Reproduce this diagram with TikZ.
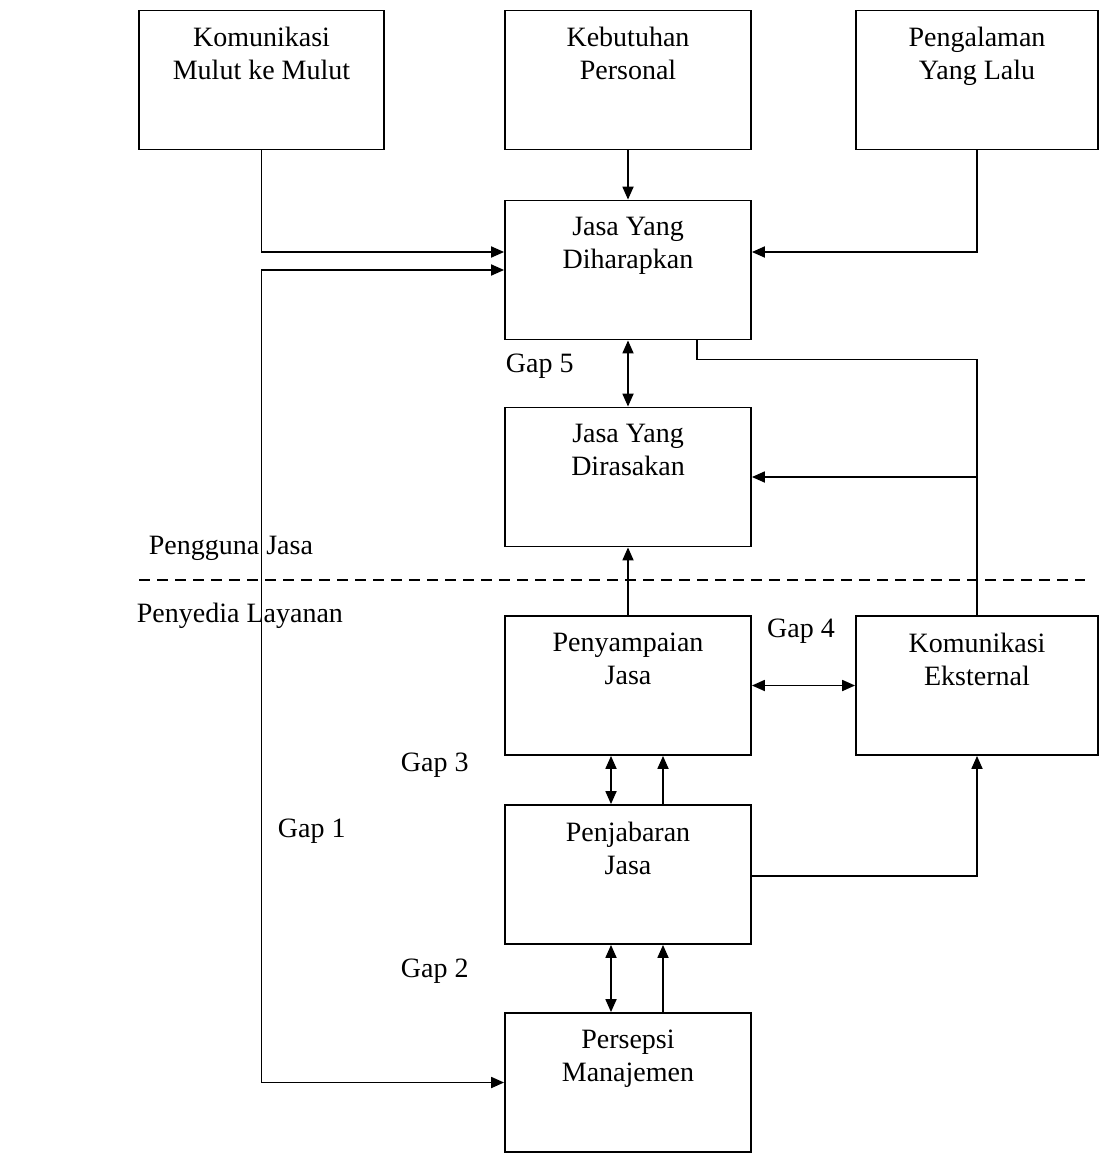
\documentclass[tikz,border=0pt]{standalone}
\usepackage{fontspec}
\setmainfont{Liberation Serif}
\usetikzlibrary{arrows.meta,calc}
\begin{document}
\begin{tikzpicture}[x=1pt,y=-1pt,
  line width=1.8pt,
  box/.style={draw, line width=1.8pt, minimum width=246pt, minimum height=139pt, inner sep=0pt},
  txt/.style={font=\fontsize{28}{33}\selectfont, align=center, inner sep=0pt, anchor=north},
  lbl/.style={font=\fontsize{28}{33}\selectfont, inner sep=0pt},
  arr/.style={-{Triangle[length=13pt,width=11pt]}},
  arrboth/.style={{Triangle[length=13pt,width=11pt]}-{Triangle[length=13pt,width=11pt]}}
]
\useasboundingbox (0,0) rectangle (1099,1173);
\fill[white] (0,0) rectangle (1099,1173);
% boxes
\node[box, minimum width=245pt] (kom) at (261.5,80) {};
\node[box] (keb) at (628,80) {};
\node[box, minimum width=242pt] (pen) at (977,80) {};
\node[box] (har) at (628,270) {};
\node[box] (ras) at (628,477) {};
\node[box] (pyp) at (628,685.5) {};
\node[box, minimum width=242pt] (eks) at (977,685.5) {};
\node[box] (pjb) at (628,874.5) {};
\node[box] (per) at (628,1082.5) {};
% box texts
\node[txt] (tkom) at ([yshift=-17]kom.north) {Komunikasi\\Mulut ke Mulut};
\node[txt] (tkeb) at ([yshift=-17]keb.north) {Kebutuhan\\Personal};
\node[txt] (tpen) at ([yshift=-17]pen.north) {Pengalaman\\Yang Lalu};
\node[txt] (thar) at ([yshift=-17]har.north) {Jasa Yang\\Diharapkan};
\node[txt] (tras) at ([yshift=-17]ras.north) {Jasa Yang\\Dirasakan};
\node[txt] (tpyp) at ([yshift=-17]pyp.north) {Penyampaian\\Jasa};
\node[txt] (teks) at ([yshift=-17]eks.north) {Komunikasi\\Eksternal};
\node[txt] (tpjb) at ([yshift=-17]pjb.north) {Penjabaran\\Jasa};
\node[txt] (tper) at ([yshift=-17]per.north) {Persepsi\\Manajemen};
% dashed divider
\coordinate (dl) at (139,580);
\coordinate (dr) at (1085,580);
\draw[dash pattern=on 11pt off 7pt] (dl) -- (dr);
% labels
\node[lbl, anchor=west] (g5) at (505,366) {Gap 5};
\node[lbl] (g4) at (801,631) {Gap 4};
\node[lbl, anchor=west] (g3) at (400,765) {Gap 3};
\node[lbl, anchor=west] (g1) at (277,831) {Gap 1};
\node[lbl, anchor=west] (g2) at (400,971) {Gap 2};
\node[lbl, anchor=west] (pj) at (148,548) {Pengguna Jasa};
\node[lbl, anchor=west] (pl) at (136,616) {Penyedia Layanan};
% connectors
\draw[arr] (kom.south) |- ([yshift=18]har.west);
\draw[arr] (pen.south) |- ([yshift=18]har.east);
\draw[arr] (keb) -- (har);
\draw[arrboth] (har.west) -| (kom.south |- per.west) -- (per.west);
\draw[arrboth] (har) -- (ras);
\coordinate (hj) at ([xshift=69]har.south);
\coordinate (hk) at ([xshift=69,yshift=-19]har.south);
\draw (eks.north) |- (hk) -- (hj);
\draw[arr] (eks.north |- ras.east) -- (ras.east);
\draw[arr] (pyp) -- (ras);
\draw[arrboth] (pyp.east) -- (eks.west);
\draw[arrboth] ([xshift=-17]pyp.south) -- ([xshift=-17]pjb.north);
\draw[arr] ([xshift=35]pjb.north) -- ([xshift=35]pyp.south);
\draw[arr] ([yshift=-1.5]pjb.east) -| (eks.south);
\draw[arrboth] ([xshift=-17]pjb.south) -- ([xshift=-17]per.north);
\draw[arr] ([xshift=35]per.north) -- ([xshift=35]pjb.south);
\end{tikzpicture}
\end{document}
